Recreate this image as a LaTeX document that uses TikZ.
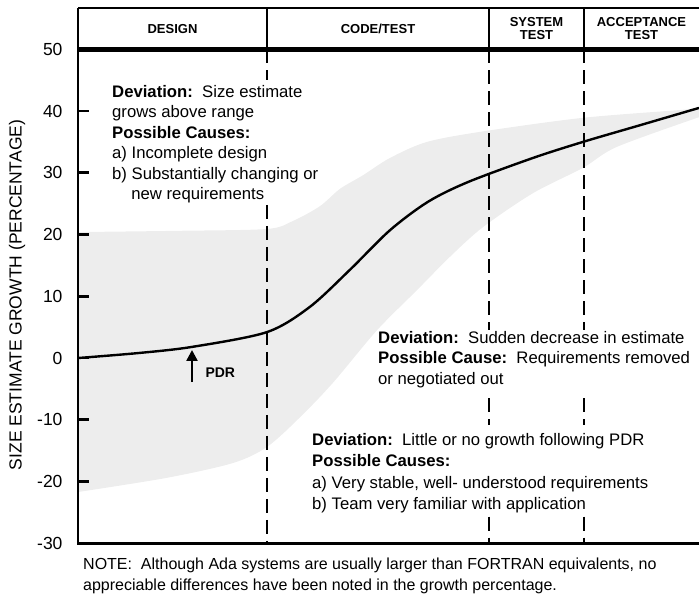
\documentclass[tikz,border=0pt]{standalone}
\usepackage{fontspec}
\setmainfont{Liberation Sans}
\usetikzlibrary{arrows.meta,positioning}
\definecolor{bandgray}{gray}{0.93}

\begin{document}
\begin{tikzpicture}[x=1pt,y=6.175pt,
    ticklbl/.style={anchor=east,font=\fontsize{17.5}{18}\selectfont},
    phaselbl/.style={align=center,font=\fontsize{13}{13.5}\selectfont\bfseries},
    devnote/.style={align=left,anchor=north west,inner sep=0pt,font=\fontsize{16.7}{20.5}\selectfont},
    axisline/.style={line width=2.6pt},
    divider/.style={line width=2.4pt,dash pattern=on 14pt off 7pt}]
  \useasboundingbox (-78,-38.54) rectangle (621,57.98);

  % spread of the size estimates
  \fill[bandgray] plot[smooth] coordinates {(0,20.4) (100,20.6) (189,20.9) (215,22.2) (242,24.6) (262,27.4)
      (285,29.6) (312,32.4) (349,35.0) (405,36.7) (505,38.9) (605,40.2) (621,40.5)}
    -- plot[smooth] coordinates {(621,39.0) (539,34.2) (505,30.8) (455,26.7) (405,21.2) (372,16.4)
      (339,11.0) (299,4.5) (255,-4.0) (222,-9.6) (189,-14.4) (155,-17.0) (89,-19.4) (0,-21.7)}
    -- cycle;

  % phase boundaries, broken round the notes
  \foreach \x/\ya/\yb in {189/50/45, 189/24.8/-30, 411/50/4.5, 411/-6.5/-10.9, 411/-25.7/-30,
                          506/50/4.5, 506/-6.5/-10.9, 506/-25.7/-30}
    \draw[divider] (\x,\ya) -- (\x,\yb);

  % expected growth
  \draw[line width=2.4pt] plot[smooth] coordinates {(0,0) (60,0.8) (114,1.8) (189,4.2) (232,8.3) (272,14.3)
      (312,20.7) (350,25.3) (390,28.5) (455,32.4) (505,35.0) (562,37.7) (621,40.5)};

  % header with the phases
  \draw[line width=1.6pt] (0,56.68) -- (621,56.68);
  \draw[line width=5pt] (0,50) -- (621,50);
  \foreach \x in {189,411,506}
    \draw[line width=1.6pt] (\x,56.68) -- (\x,50);
  \node[phaselbl] (design) at (94.5,53.34) {DESIGN};
  \node[phaselbl] (code)   at (300,53.34)  {CODE/TEST};
  \node[phaselbl] (system) at (458.5,53.34) {SYSTEM\\TEST};
  \node[phaselbl] (accept) at (563.5,53.34) {ACCEPTANCE\\TEST};

  % axes
  \draw[axisline,line join=miter] (0,56.68) -- (0,-30) -- (621,-30);
  \foreach \v in {40,30,...,-20}
    \draw[axisline] (0,\v) -- (11,\v);
  \foreach \v in {50,40,...,-30}
    \node[ticklbl] (lbl\v) at (-12,\v) {\v};
  \node[rotate=90,font=\fontsize{17.5}{18}\selectfont] (ytitle) at (-61,10.2) {SIZE ESTIMATE GROWTH (PERCENTAGE)};

  % PDR marker
  \coordinate (pdrfoot) at (114,-3.9);
  \coordinate (pdrtip)  at (114,1.3);
  \draw[line width=2.4pt,-{Triangle[width=11pt,length=11pt]}] (pdrfoot) -- (pdrtip);
  \node[anchor=west,font=\fontsize{14}{14}\selectfont\bfseries] (pdr) at (124,-2.43) {PDR};

  % deviations
  \node[devnote] (grows) at (34,44.2) {\textbf{Deviation:}\ \ Size estimate\\grows above range\\
    \textbf{Possible Causes:}\\a) Incomplete design\\b) Substantially changing or\\\hspace*{1.15em}new requirements};
  \node[devnote] (drop) at (300,4.37) {\textbf{Deviation:}\ \ Sudden decrease in estimate\\
    \textbf{Possible Cause:}\ \ Requirements removed\\or negotiated out};
  \node[devnote,font=\fontsize{16.7}{21.5}\selectfont] (flat) at (234,-12.15) {\textbf{Deviation:}\ \ Little or no growth following PDR\\
    \textbf{Possible Causes:}\\a) Very stable, well- understood requirements\\b) Team very familiar with application};

  \node[devnote,font=\fontsize{16}{21}\selectfont] (note) at (5,-32.4) {NOTE:\ \ Although Ada systems are usually larger than FORTRAN equivalents, no\\
    appreciable differences have been noted in the growth percentage.};
\end{tikzpicture}
\end{document}
